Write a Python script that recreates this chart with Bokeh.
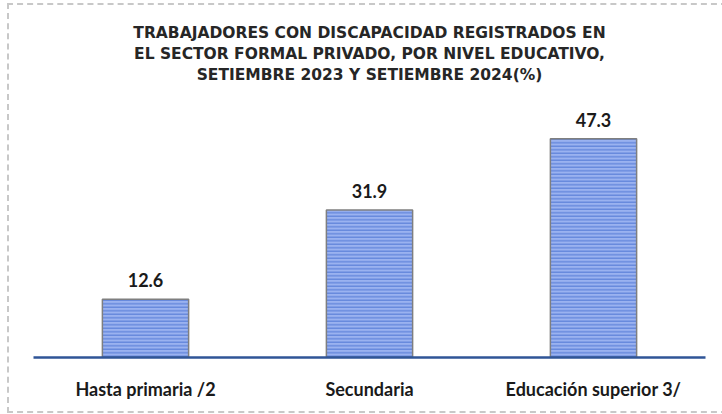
from bokeh.plotting import figure
from bokeh.models import ColumnDataSource, Title, FactorRange, Range1d
from bokeh.core.properties import value
from bokeh.embed import file_html
from bokeh.resources import INLINE

categories = ["Hasta primaria /2", "Secundaria", "Educación superior 3/"]
values = [12.6, 31.9, 47.3]
value_labels = ["12.6", "31.9", "47.3"]
title_lines = [
    "TRABAJADORES CON DISCAPACIDAD REGISTRADOS EN",
    "EL SECTOR FORMAL PRIVADO, POR NIVEL EDUCATIVO,",
    "SETIEMBRE 2023 Y SETIEMBRE 2024(%)",
]

src = ColumnDataSource(dict(cat=categories, val=values, lab=value_labels))

p = figure(
    x_range=FactorRange(*categories),
    y_range=Range1d(0, 59.0),
    width=714, height=406,
    output_backend="svg", toolbar_location=None,
    min_border_left=33, min_border_right=9, min_border_top=0, min_border_bottom=49,
    background_fill_color="white", border_fill_color="white",
)
p.stylesheets = [
    ":host { position: relative; overflow: visible; }"
    ":host::after { content: ''; position: absolute; left: 7px; top: 3px; "
    "width: 720px; height: 410px; border: 2px dashed #C8C8C8; "
    "box-sizing: border-box; pointer-events: none; }"
]

for line in reversed(title_lines):
    t = Title(text=line, align="center", text_font="DejaVu Sans",
              text_font_size="15.5px", text_font_style="bold", text_color="#262626",
              standoff=1, offset=0)
    p.add_layout(t, "above")
p.add_layout(Title(text=" ", text_font_size="10px", standoff=8), "above")

p.vbar(x="cat", top="val", width=0.385, source=src,
       fill_color="#9AB2F0", line_color="#7F7F7F", line_width=1.5,
       hatch_pattern="horizontal_line", hatch_color="#5C80D9",
       hatch_scale=3.5, hatch_weight=1.2)

p.text(x="cat", y="val", text="lab", source=src, y_offset=-19,
       text_align="center", text_baseline="alphabetic",
       text_font=value("Lato"), text_font_size="18px", text_font_style="bold",
       text_color="#1a1a1a")

p.outline_line_color = None
p.grid.visible = False
p.yaxis.visible = False
p.xaxis.axis_line_color = "#2F5597"
p.xaxis.axis_line_width = 2.5
p.xaxis.major_tick_line_color = None
p.xaxis.minor_tick_line_color = None
p.xaxis.major_label_text_font = "Lato"
p.xaxis.major_label_text_font_size = "18px"
p.xaxis.major_label_text_font_style = "bold"
p.xaxis.major_label_text_color = "#1a1a1a"
p.xaxis.major_label_standoff = 14

open("out.html", "w").write(file_html(p, INLINE))
